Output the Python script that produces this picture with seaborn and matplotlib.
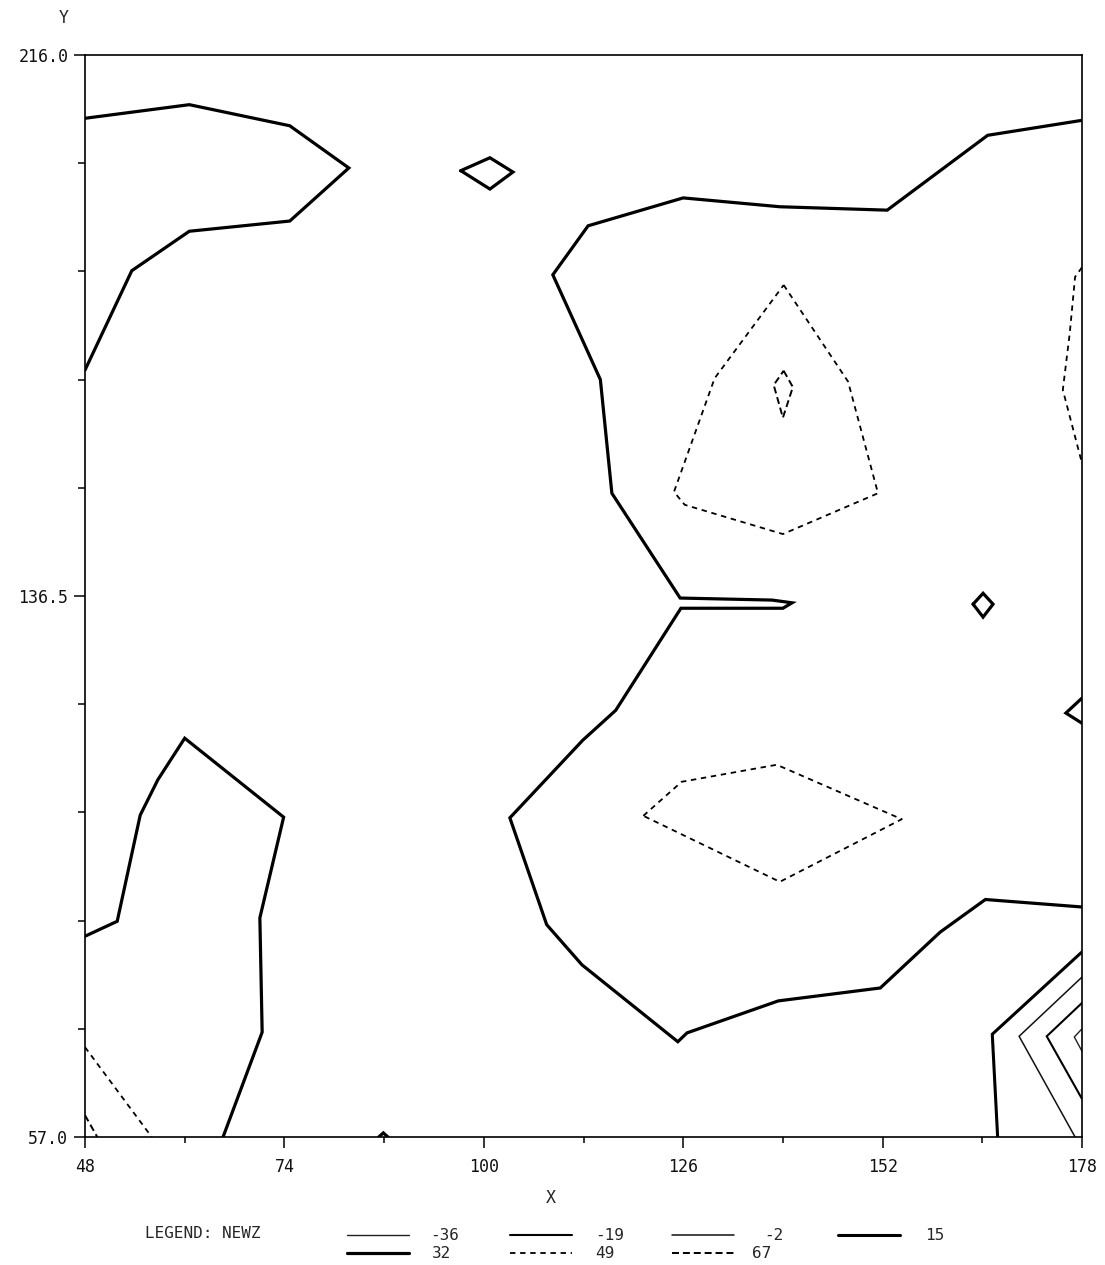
import matplotlib
matplotlib.use("Agg")
import matplotlib.pyplot as plt
from matplotlib.lines import Line2D
import numpy as np
import pandas as pd
import seaborn as sns

# Contour levels of NEWZ shown in the legend
levels = [-36, -19, -2, 15, 32, 49, 67]

# Axis ranges and tick labels
x_min, x_max = 48, 178
y_min, y_max = 57.0, 216.0
x_tick_labels = ["48", "74", "100", "126", "152", "178"]
y_tick_labels = ["57.0", "136.5", "216.0"]

# ---- contour polylines (data coordinates) ----
# level 32, upper-left lobe
nw_lobe_x = [48, 61.6, 74.7, 82.4, 74.7, 61.6, 54.1, 48]
nw_lobe_y = [206.7, 208.7, 205.6, 199.4, 191.6, 190.1, 184.3, 169.7]

# level 32, small closed loop near the top
top_loop_x = [97.0, 100.8, 103.8, 100.8, 97.0]
top_loop_y = [199.0, 200.9, 198.8, 196.3, 199.0]

# level 32, long boundary across the right half
east_band_x = [178, 165.7, 152.6, 138.6, 126.0, 113.6, 109.0, 115.2, 116.7,
               125.6, 137.6, 140.2, 139.0, 125.7, 117.2, 112.9, 103.4, 108.2,
               112.8, 125.3, 126.5, 138.4, 151.7, 159.5, 165.4, 178]
east_band_y = [206.4, 204.2, 193.2, 193.7, 195.0, 190.9, 183.7, 168.3, 151.6,
               136.2, 135.9, 135.5, 134.7, 134.7, 119.7, 115.3, 103.9, 88.2,
               82.3, 71.0, 72.3, 77.0, 78.9, 87.1, 91.9, 90.8]

# level 32, small closed loop on the right
mid_loop_x = [163.8, 165.1, 166.4, 165.1, 163.8]
mid_loop_y = [135.3, 136.9, 135.3, 133.4, 135.3]

# level 32, wedge touching the right edge
edge_wedge_x = [178, 175.9, 178]
edge_wedge_y = [121.5, 119.3, 117.8]

# level 32, tiny bump on the bottom edge
base_bump_x = [86.3, 86.9, 87.5]
base_bump_y = [57.0, 57.6, 57.0]

# level 32, lower-left lobe
sw_lobe_x = [48, 52.2, 55.2, 57.5, 61.0, 73.9, 70.8, 71.1, 66.0]
sw_lobe_y = [86.5, 88.7, 104.3, 109.5, 115.6, 104.0, 89.2, 72.4, 57.0]

# level 49 contours
upper_peak_x = [139.1, 147.5, 151.4, 139.0, 126.2, 124.8, 130.1, 139.1]
upper_peak_y = [182.2, 168.0, 151.6, 145.6, 149.9, 151.8, 168.5, 182.2]
lower_peak_x = [120.8, 125.8, 138.2, 154.5, 138.6, 120.8]
lower_peak_y = [104.2, 109.2, 111.7, 103.7, 94.5, 104.2]
east_rim_x = [178, 177.1, 176.4, 175.5, 178]
east_rim_y = [184.8, 183.4, 175.1, 166.8, 156.0]
sw_corner_x = [48, 56.7]
sw_corner_y = [70.2, 57.0]

# level 67 contours
upper_core_x = [139.1, 140.3, 139.0, 137.8, 139.1]
upper_core_y = [169.6, 167.2, 162.7, 167.5, 169.6]
sw_core_x = [48, 49.6]
sw_core_y = [60.2, 57.0]

# lower-right pit: levels 15, -2, -19, -36
pit_15_x = [178, 166.3, 167.0]
pit_15_y = [84.2, 72.1, 57.0]
pit_m2_x = [178, 169.8, 177.1]
pit_m2_y = [80.5, 71.8, 57.0]
pit_m19_x = [178, 173.4, 178]
pit_m19_y = [76.7, 71.8, 62.6]
pit_m36_x = [178, 177.0, 178]
pit_m36_y = [72.9, 71.7, 69.6]

contours = [
    (32, nw_lobe_x, nw_lobe_y), (32, top_loop_x, top_loop_y),
    (32, east_band_x, east_band_y), (32, mid_loop_x, mid_loop_y),
    (32, edge_wedge_x, edge_wedge_y), (32, base_bump_x, base_bump_y),
    (32, sw_lobe_x, sw_lobe_y),
    (49, upper_peak_x, upper_peak_y), (49, lower_peak_x, lower_peak_y),
    (49, east_rim_x, east_rim_y), (49, sw_corner_x, sw_corner_y),
    (67, upper_core_x, upper_core_y), (67, sw_core_x, sw_core_y),
    (15, pit_15_x, pit_15_y), (-2, pit_m2_x, pit_m2_y),
    (-19, pit_m19_x, pit_m19_y), (-36, pit_m36_x, pit_m36_y),
]

# pen style for each level
pen = {
    -36: dict(lw=1.0, ls="-", color="#222222"),
    -19: dict(lw=1.5, ls="-", color="black"),
    -2: dict(lw=1.1, ls="-", color="#111111"),
    15: dict(lw=2.2, ls="-", color="black"),
    32: dict(lw=2.3, ls="-", color="black"),
    49: dict(lw=1.3, ls=(0, (3.0, 2.6)), color="black"),
    67: dict(lw=1.4, ls=(0, (3.6, 2.0)), color="black"),
}

sns.set_theme(style="white")
plt.rcParams["font.family"] = ["DejaVu Sans Mono", "DejaVu Sans"]

W, H = 1105, 1265
fig = plt.figure(figsize=(W / 100, H / 100), dpi=100)
ax = fig.add_axes([85 / W, 128 / H, 997 / W, 1082 / H])

for seg_id, (lev, xs, ys) in enumerate(contours):
    df = pd.DataFrame({"x": xs, "y": ys})
    p = pen[lev]
    sns.lineplot(data=df, x="x", y="y", sort=False, estimator=None, ax=ax,
                 color=p["color"], linewidth=p["lw"], linestyle=p["ls"],
                 solid_joinstyle="miter", legend=False)

ax.set_xlim(x_min, x_max)
ax.set_ylim(y_min, y_max)

# ticks: ten intervals along each axis, labels on alternating/selected ticks
xt = np.linspace(x_min, x_max, 11)
yt = np.linspace(y_min, y_max, 11)
ax.set_xticks(xt[::2])
ax.set_xticklabels(x_tick_labels)
ax.set_xticks(xt[1::2], minor=True)
ax.set_yticks([yt[0], yt[5], yt[10]])
ax.set_yticklabels(y_tick_labels)
ax.set_yticks([v for i, v in enumerate(yt) if i not in (0, 5, 10)], minor=True)

ax.tick_params(axis="both", which="both", direction="out", color="black",
               width=1.1, labelsize=12, labelcolor="#111111")
ax.tick_params(axis="x", which="major", length=8, pad=7, bottom=True)
ax.tick_params(axis="x", which="minor", length=4, bottom=True)
ax.tick_params(axis="y", which="major", length=8, pad=4, left=True)
ax.tick_params(axis="y", which="minor", length=5, left=True)

for s in ax.spines.values():
    s.set_visible(True)
    s.set_color("black")
    s.set_linewidth(1.2)

ax.set_xlabel("")
ax.set_ylabel("")
fig.text(64 / W, 1 - 18 / H, "Y", ha="center", va="center", fontsize=12)
fig.text(551 / W, 1 - 1198 / H, "X", ha="center", va="center", fontsize=12)

# legend block under the plot
fig.text(145 / W, 1 - 1233 / H, "LEGEND: NEWZ", ha="left", va="center",
         fontsize=11.5)
legend_slots = [
    (-36, 347, 1235), (-19, 510, 1235), (-2, 672, 1235), (15, 838, 1235),
    (32, 347, 1253), (49, 510, 1253), (67, 672, 1253),
]
label_x = {-36: 430, -19: 595, -2: 764, 15: 925, 32: 432, 49: 595, 67: 752}
for lev, x0, yy in legend_slots:
    p = pen[lev]
    fig.add_artist(Line2D([x0 / W, (x0 + 62) / W], [1 - yy / H, 1 - yy / H],
                          transform=fig.transFigure, color=p["color"],
                          linewidth=p["lw"], linestyle=p["ls"]))
    fig.text(label_x[lev] / W, 1 - yy / H, str(lev), ha="left", va="center",
             fontsize=11.5)

fig.savefig("out.png", dpi=100, facecolor="white")
